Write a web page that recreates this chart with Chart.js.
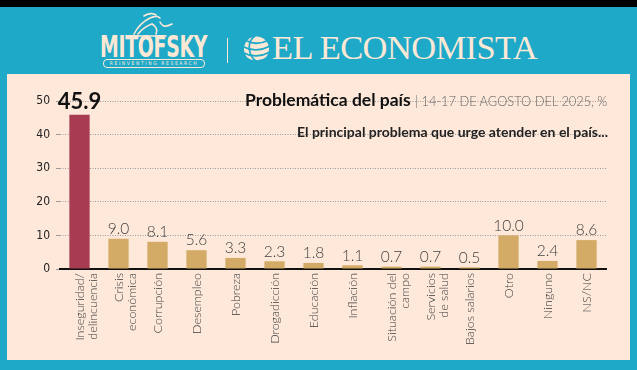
<!DOCTYPE html>
<html>
<head>
<meta charset="utf-8">
<script src="https://cdn.jsdelivr.net/npm/chart.js@4.4.0/dist/chart.umd.min.js"></script>
<style>
    body { margin: 0; width: 637px; height: 370px; background: #1ea9c8; position: relative; overflow: hidden; font-family: Lato, "Open Sans", sans-serif; }
    #topbar { position: absolute; left: 0; top: 0; width: 637px; height: 7px; background: #000; }
    #panel { position: absolute; left: 7px; top: 74px; width: 623px; height: 286px; background: #fde8da; }
    #chart { position: absolute; left: 0; top: 0; }
    .txt { position: absolute; white-space: nowrap; }
    #mitofsky { left: 100px; top: 30px; font-family: "DejaVu Sans Condensed", sans-serif; font-weight: bold; font-size: 21px; line-height: 24px; color: #fde8d6; letter-spacing: -0.3px; transform: scaleY(1.4); transform-origin: left top; }
    #pill { left: 103px; top: 59px; width: 100px; height: 7px; border: 1px solid #fde8d6; border-radius: 4px; font-size: 5px; line-height: 7px; text-align: center; color: #fde8d6; letter-spacing: 1.6px; font-family: "DejaVu Sans Condensed", sans-serif; }
    #divider { left: 227px; top: 38px; width: 1px; height: 25px; background: #fde8d6; }
    #economista { left: 272px; top: 28px; font-family: "Liberation Serif", "DejaVu Serif", serif; font-size: 34.5px; color: #fde8d6; letter-spacing: -0.6px; }
    #title { left: 245px; top: 89px; font-size: 17.5px; font-weight: bold; color: #111; }
    #title span { font-weight: 300; font-size: 12.8px; color: #666; }
    #subtitle { right: 29px; top: 123px; font-size: 14px; font-weight: bold; color: #222; }
</style>
</head>
<body>
<div id="topbar"></div>
<div id="panel"></div>
<svg class="txt" style="left:126px;top:12px" width="50" height="26" viewBox="0 0 50 26">
    <g fill="none" stroke="#fde8d6" stroke-width="1.6" stroke-linecap="round">
        <path d="M8 22 C12 14 16 10 24 6 C28 4 32 4 34 6"/>
        <path d="M12 22 C16 17 20 14 26 12"/>
        <path d="M18 4 C22 1 28 1 30 3"/>
        <path d="M26 12 C30 14 32 18 30 22"/>
        <path d="M34 10 C36 14 38 16 46 12"/>
        <path d="M6 24 L40 24"/>
    </g>
</svg>
<div id="mitofsky" class="txt">MITOFSKY</div>
<div id="pill" class="txt">REINVENTING RESEARCH</div>
<div id="divider" class="txt"></div>
<svg class="txt" style="left:243px;top:35px" width="27" height="28" viewBox="0 0 27 28">
    <circle cx="13.5" cy="14" r="12.5" fill="#fde8d6"/>
    <g fill="none" stroke="#1ea9c8" stroke-width="1.8">
        <path d="M4 6 C10 9 18 9 26 5"/>
        <path d="M1 12 C8 16 18 16 27 11"/>
        <path d="M1 18 C8 22 18 22 27 17"/>
        <path d="M4 24 C10 27 18 27 24 23"/>
        <path d="M12 1 C4 6 4 20 14 27"/>
    </g>
</svg>
<div id="economista" class="txt">EL ECONOMISTA</div>
<canvas id="chart" width="637" height="370"></canvas>
<div id="title" class="txt">Problemática del país <span>| 14-17 DE AGOSTO DEL 2025, %</span></div>
<div id="subtitle" class="txt">El principal problema que urge atender en el país...</div>
<script>
    // datos
    var categories = [["Inseguridad/", "delincuencia"], ["Crisis", "económica"], "Corrupción", "Desempleo", "Pobreza",
        "Drogadicción", "Educación", "Inflación", ["Situación del", "campo"], ["Servicios", "de salud"],
        "Bajos salarios", "Otro", "Ninguno", "NS/NC"];
    var values = [45.9, 9.0, 8.1, 5.6, 3.3, 2.3, 1.8, 1.1, 0.7, 0.7, 0.5, 10.0, 2.4, 8.6];
    var yMin = 0;
    var yMax = 50;
    var yStep = 10;

    var barColors = values.map(function (v, i) {
        return i === 0 ? '#a63b51' : '#d4ab66';
    });

    // etiquetas de valor encima de cada barra
    var valueLabels = {
        id: 'valueLabels',
        afterDatasetsDraw: function (chart) {
            var ctx = chart.ctx;
            var meta = chart.getDatasetMeta(0);
            meta.data.forEach(function (bar, i) {
                ctx.save();
                ctx.textAlign = 'center';
                ctx.textBaseline = 'bottom';
                if (i === 0) {
                    ctx.font = 'bold 22px Lato';
                    ctx.fillStyle = '#111';
                } else {
                    ctx.font = '300 15.5px Lato';
                    ctx.fillStyle = '#3f3f3f';
                }
                ctx.fillText(values[i].toFixed(1), bar.x, bar.y - 2);
                ctx.restore();
            });
        }
    };

    var ctx = document.getElementById('chart').getContext('2d');
    var chart = new Chart(ctx, {
        type: 'bar',
        data: {
            labels: categories,
            datasets: [{
                data: values,
                backgroundColor: barColors,
                barPercentage: 0.52,
                categoryPercentage: 1
            }]
        },
        options: {
            responsive: false,
            animation: false,
            layout: { padding: { left: 10, right: 31, top: 101, bottom: 11 } },
            plugins: { legend: { display: false }, tooltip: { enabled: false } },
            scales: {
                x: {
                    afterFit: function (s) { s.height = 90; },
                    grid: { display: false, drawTicks: false },
                    border: { display: true, color: '#111', width: 2 },
                    ticks: {
                        minRotation: 90,
                        maxRotation: 90,
                        padding: 4,
                        color: '#3a3a3a',
                        font: { family: 'Lato', size: 12.5, weight: '300', lineHeight: 1.1 }
                    }
                },
                y: {
                    min: yMin,
                    max: yMax,
                    afterFit: function (s) { s.width = 50; },
                    border: { display: false, dash: [1, 1.5] },
                    grid: { color: '#9a9a9a', lineWidth: 1, tickLength: 4, tickColor: '#9a9a9a' },
                    ticks: {
                        stepSize: yStep,
                        padding: 6,
                        color: '#222',
                        font: { family: 'DejaVu Sans Condensed', size: 12 }
                    }
                }
            }
        },
        plugins: [valueLabels]
    });
</script>
</body>
</html>
